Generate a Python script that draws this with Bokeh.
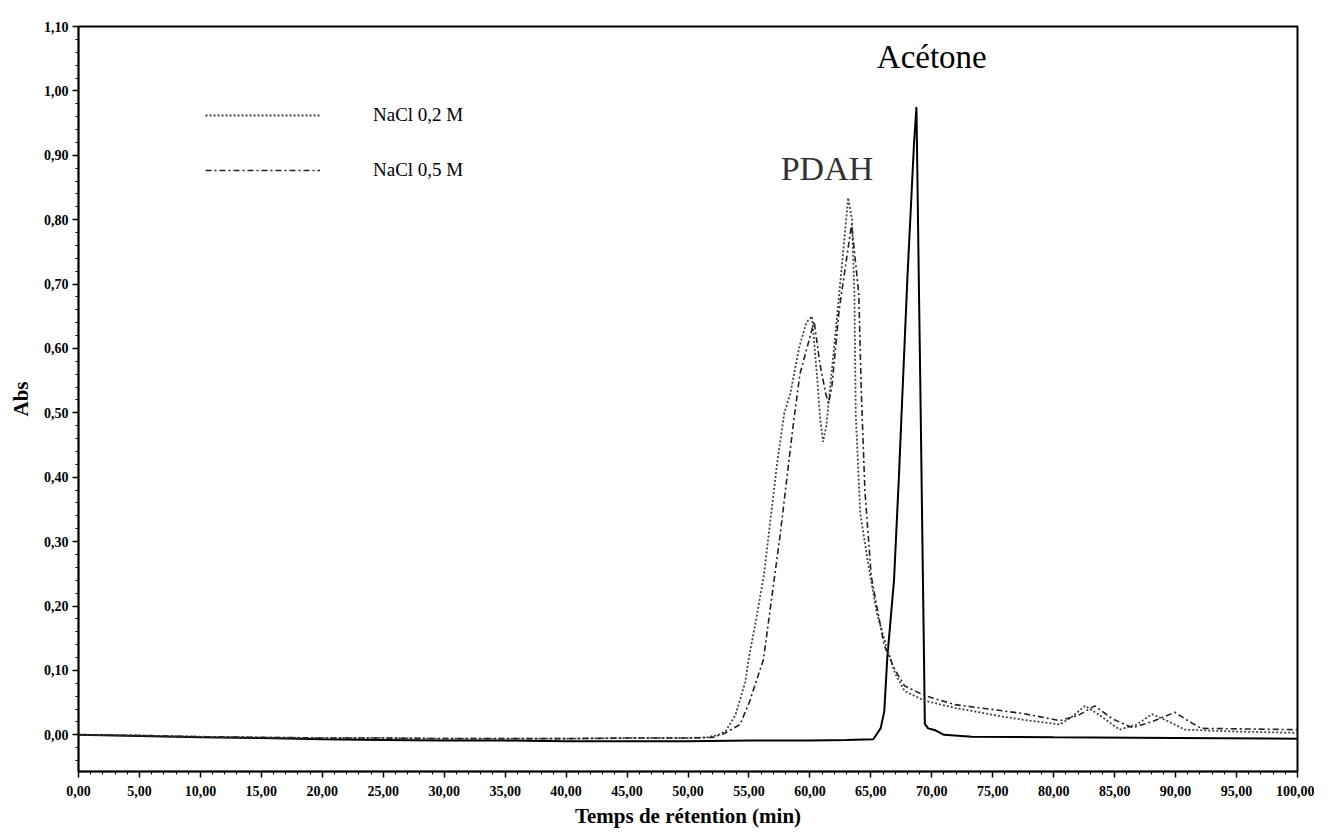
from bokeh.plotting import figure
from bokeh.models import (FixedTicker, Legend, LegendItem, Label, Range1d,
                          CustomJSTickFormatter)
from bokeh.embed import file_html
from bokeh.resources import INLINE

# ---- data ----
time_acetone = [0, 5, 10, 15, 20, 25, 30, 35, 40, 45, 50, 55, 60, 63, 65.2,
                65.8, 66.1, 66.35, 66.9, 67.3, 67.5, 68.0, 68.54, 68.74,
                68.84, 68.95, 69.09, 69.23, 69.36, 69.43, 69.7, 70.3, 71.0,
                73.3, 80, 90, 100]
abs_acetone = [0.0, -0.002, -0.004, -0.005, -0.007, -0.008, -0.009, -0.009,
               -0.010, -0.010, -0.010, -0.009, -0.009, -0.008, -0.007,
               0.010, 0.036, 0.12, 0.24, 0.40, 0.49, 0.71, 0.918, 0.975,
               0.84, 0.685, 0.50, 0.30, 0.12, 0.017, 0.010, 0.007, 0.0,
               -0.003, -0.004, -0.005, -0.006]

time_nacl02 = [0, 5, 10, 15, 20, 25, 30, 35, 40, 45, 50, 51.6, 52.5, 53.1,
               53.9, 54.7, 54.97, 55.6, 56.22, 57.3, 57.9, 58.4, 59.1, 59.7,
               60.17, 60.59, 60.85, 61.08, 61.35, 62.23, 62.58, 63.14, 63.45,
               63.65, 63.76, 64.13, 64.77, 65.48, 66.25, 67.0, 67.77, 69.4,
               71.85, 75.9, 78.0, 80.5, 81.5, 82.57, 83.8, 85.4, 86.8, 88.07,
               89.5, 90.75, 95, 100]
abs_nacl02 = [0.0, -0.001, -0.003, -0.004, -0.005, -0.005, -0.006, -0.006,
              -0.006, -0.005, -0.005, -0.004, 0.0, 0.006, 0.031, 0.082,
              0.117, 0.18, 0.247, 0.42, 0.50, 0.53, 0.60, 0.64, 0.65, 0.556,
              0.49, 0.455, 0.48, 0.649, 0.72, 0.834, 0.80, 0.685, 0.498,
              0.344, 0.267, 0.19, 0.139, 0.095, 0.068, 0.053, 0.042, 0.028,
              0.022, 0.016, 0.028, 0.045, 0.03, 0.008, 0.016, 0.032, 0.02,
              0.008, 0.005, 0.003]

time_nacl05 = [0, 5, 10, 15, 20, 25, 30, 35, 40, 45, 50, 52.0, 52.98, 54.27,
               55.04, 55.58, 56.19, 57.55, 58.61, 59.18, 60.35, 60.82, 61.3,
               61.53, 61.8, 62.4, 63.42, 64.01, 64.22, 64.51, 65.03, 65.47,
               66.09, 67.0, 67.77, 69.4, 71.85, 75.9, 77.5, 80.5, 82.0, 83.37,
               84.8, 86.45, 88.0, 89.94, 91.0, 92.1, 96, 100]
abs_nacl05 = [0.0, -0.001, -0.003, -0.004, -0.005, -0.005, -0.006, -0.006,
              -0.006, -0.005, -0.005, -0.004, 0.002, 0.016, 0.051, 0.082,
              0.117, 0.309, 0.478, 0.56, 0.642, 0.576, 0.53, 0.515, 0.54,
              0.66, 0.793, 0.685, 0.53, 0.38, 0.247, 0.201, 0.139, 0.10,
              0.076, 0.061, 0.047, 0.037, 0.033, 0.022, 0.03, 0.045, 0.025,
              0.011, 0.02, 0.035, 0.022, 0.01, 0.009, 0.008]

series_labels = ["NaCl 0,2 M", "NaCl 0,5 M"]

x_ticks = [0, 5, 10, 15, 20, 25, 30, 35, 40, 45, 50, 55, 60, 65, 70, 75, 80,
           85, 90, 95, 100]
x_tick_labels = ["0,00", "5,00", "10,00", "15,00", "20,00", "25,00", "30,00",
                 "35,00", "40,00", "45,00", "50,00", "55,00", "60,00", "65,00",
                 "70,00", "75,00", "80,00", "85,00", "90,00", "95,00",
                 "100,00"]
y_ticks = [0.0, 0.1, 0.2, 0.3, 0.4, 0.5, 0.6, 0.7, 0.8, 0.9, 1.0, 1.1]
y_tick_labels = ["0,00", "0,10", "0,20", "0,30", "0,40", "0,50", "0,60",
                 "0,70", "0,80", "0,90", "1,00", "1,10"]

annotations = [("Acétone", 70.0, 1.053), ("PDAH", 61.4, 0.88)]

SERIF = "Liberation Serif"

p = figure(width=1314, height=830, output_backend="svg", toolbar_location=None,
           x_range=Range1d(0, 100), y_range=Range1d(-0.057, 1.10),
           min_border_left=78, min_border_right=17, min_border_top=26,
           min_border_bottom=54, background_fill_color="white",
           border_fill_color="white")

p.xgrid.visible = False
p.ygrid.visible = False
p.outline_line_color = "black"
p.outline_line_width = 2

fmt_code = ("const i = tvals.findIndex(t => Math.abs(t - tick) < 1e-6);"
            "return i >= 0 ? tlabels[i] : '';")
p.xaxis.ticker = FixedTicker(ticks=x_ticks,
                             minor_ticks=[float(i) for i in range(0, 101)])
p.xaxis.formatter = CustomJSTickFormatter(
    args=dict(tvals=x_ticks, tlabels=x_tick_labels), code=fmt_code)
p.yaxis.ticker = FixedTicker(ticks=y_ticks,
                             minor_ticks=[i * 0.02 - 0.04 for i in range(0, 58)])
p.yaxis.formatter = CustomJSTickFormatter(
    args=dict(tvals=y_ticks, tlabels=y_tick_labels), code=fmt_code)

for ax in (p.xaxis[0], p.yaxis[0]):
    ax.axis_line_color = "black"
    ax.axis_line_width = 1.5
    ax.major_tick_line_color = "black"
    ax.major_tick_line_width = 1.5
    ax.major_tick_out = 6
    ax.major_tick_in = 0
    ax.minor_tick_line_color = "black"
    ax.minor_tick_out = 3
    ax.minor_tick_in = 0
    ax.major_label_text_font = SERIF
    ax.major_label_text_font_style = "bold"
    ax.major_label_text_font_size = "14px"
    ax.major_label_text_color = "black"
    ax.axis_label_text_font = SERIF
    ax.axis_label_text_font_style = "bold"
    ax.axis_label_text_color = "black"

p.xaxis.axis_label = "Temps de rétention (min)"
p.xaxis.axis_label_text_font_size = "21px"
p.xaxis.major_label_standoff = 8
p.xaxis.axis_label_standoff = 5
p.yaxis.axis_label = "Abs"
p.yaxis.axis_label_text_font_size = "21px"
p.yaxis.major_label_standoff = 4
p.yaxis.axis_label_standoff = 8

r_ac = p.line(time_acetone, abs_acetone, line_color="black", line_width=2)
r_02 = p.line(time_nacl02, abs_nacl02, line_color="#444444", line_width=1.8,
              line_dash="2 2")
r_05 = p.line(time_nacl05, abs_nacl05, line_color="#222222", line_width=1.6,
              line_dash="6 3 2 3")

legend = Legend(items=[LegendItem(label=series_labels[0], renderers=[r_02]),
                       LegendItem(label=series_labels[1], renderers=[r_05])],
                location=(127, 590), padding=0, margin=0, spacing=33,
                glyph_width=115, glyph_height=20, label_height=20,
                label_standoff=53, border_line_alpha=0,
                background_fill_alpha=0, label_text_font=SERIF,
                label_text_font_size="19px", label_text_color="black")
p.add_layout(legend)

for txt, tx, ty in annotations:
    is_pdah = txt == "PDAH"
    p.add_layout(Label(x=tx, y=ty, text=txt, text_font=SERIF,
                       text_font_size="34px" if is_pdah else "33px",
                       text_color="#333333" if is_pdah else "black",
                       text_align="center", text_baseline="middle"))

open("out.html", "w").write(file_html(p, INLINE))
